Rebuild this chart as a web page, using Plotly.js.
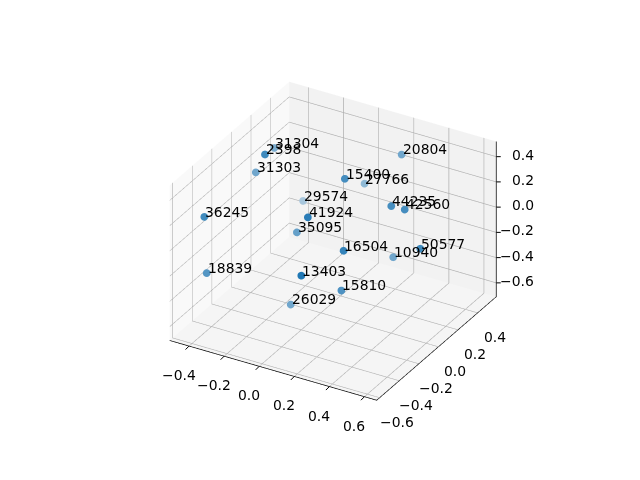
<!DOCTYPE html>
<html><head><meta charset="utf-8">
<script src="https://cdn.plot.ly/plotly-3.0.1.min.js"></script>
<style>html,body{margin:0;padding:0;background:#fff}</style></head>
<body><div id="chart" style="width:640px;height:480px"></div>
<script>
const labels=["31304","2398","31303","36245","18839","29574","41924","35095","13403","26029","15810","16504","15400","27766","20804","44235","42560","50577","10940"];
const xs=[-0.434,-0.272,-0.451,-0.442,-0.449,-0.36,0.053,-0.176,0.129,-0.11,0.172,0.218,0.076,-0.05,0.158,0.309,0.37,0.567,0.235];
const ys=[0.30,-0.085,0.142,-0.40,-0.363,0.462,-0.229,0.069,-0.432,-0.112,-0.10,-0.16,0.107,0.534,0.54,0.164,0.192,-0.002,0.316];
const zs=[0.222,0.494,0.128,0.143,-0.33,-0.277,0.223,-0.188,-0.072,-0.612,-0.396,-0.022,0.312,-0.064,0.246,0.151,0.129,0.028,-0.386];
const alphas=[0.57,0.85,0.62,0.85,0.75,0.36,0.95,0.67,1,0.62,0.78,0.9,0.82,0.47,0.62,0.82,0.82,0.85,0.62];
const xRange=[-0.51,0.67], yRange=[-0.63,0.59], zRange=[-0.71,0.52];
const xTicks=[-0.4,-0.2,0,0.2,0.4,0.6], yTicks=[-0.6,-0.4,-0.2,0,0.2,0.4], zTicks=[-0.6,-0.4,-0.2,0,0.2,0.4];
const fmt=v=>v<0?"\u2212"+Math.abs(v).toFixed(1):v.toFixed(1);
const blend=a=>`rgb(${[31,119,180].map((c,i)=>Math.round(a*c+(1-a)*[243,243,243][i])).join(",")})`;
const font={family:"DejaVu Sans",size:13.9,color:"#000"};
function ax(range,ticks,bg){return {range:range,tickvals:ticks,showticklabels:true,tickfont:{size:1,color:"rgba(0,0,0,0)"},showbackground:true,backgroundcolor:bg,
 gridcolor:"#b0b0b0",gridwidth:1.4,showline:true,linecolor:"#000",linewidth:1.5,ticks:"",
 zeroline:false,showspikes:false,title:{text:""}};}
const zax=Object.assign(ax(zRange,zTicks,"#f5f5f5"),{showline:false,showticklabels:false});
const zLine={type:"scatter3d",mode:"lines",x:[xRange[1],xRange[1]],y:[yRange[1],yRange[1]],z:zRange,line:{color:"#000",width:1.5},hoverinfo:"skip"};
const annos=[];
const tick=(x,y,z,dx,dy)=>annos.push({x:x,y:y,z:z,text:" ",showarrow:true,arrowhead:0,arrowwidth:1,arrowcolor:"#000",ax:dx,ay:dy,font:font});
zTicks.forEach(z=>{
 tick(xRange[1],yRange[1],z,8,0);
 annos.push({x:xRange[1],y:yRange[1],z:z,text:fmt(z),showarrow:false,xanchor:"right",xshift:40,yshift:2,font:font});
});
xTicks.forEach(x=>{tick(x,yRange[0],zRange[0],-7,7);
 annos.push({x:x,y:yRange[0],z:zRange[0],text:fmt(x),showarrow:false,xanchor:"center",yanchor:"middle",xshift:-10,yshift:-29,font:font});});
yTicks.forEach(y=>{tick(xRange[1],y,zRange[0],9,3);
 annos.push({x:xRange[1],y:y,z:zRange[0],text:fmt(y),showarrow:false,xanchor:"center",yanchor:"middle",xshift:17,yshift:-24,font:font});});
labels.forEach((t,i)=>annos.push({x:xs[i],y:ys[i],z:zs[i],text:t,showarrow:false,xanchor:"left",yanchor:"bottom",xshift:-1,yshift:-5,font:font}));
Plotly.newPlot("chart",[{type:"scatter3d",mode:"markers",x:xs,y:ys,z:zs,
 marker:{size:4.5,color:alphas.map(blend),line:{width:0}}},zLine],
 {width:640,height:480,margin:{l:26,r:0,t:2,b:0},paper_bgcolor:"#fff",showlegend:false,
  scene:{domain:{x:[0,1],y:[0,1]},aspectmode:"manual",aspectratio:{x:1,y:1,z:0.75},
   xaxis:ax(xRange,xTicks,"#f9f9f9"),yaxis:ax(yRange,yTicks,"#f2f2f2"),zaxis:zax,annotations:annos,
   camera:{projection:{type:"orthographic"},up:{x:0,y:0,z:1},center:{x:0,y:0,z:0},eye:{x:0.866,y:-1.5,z:1.0}}}},
 {displayModeBar:false});
</script></body></html>
